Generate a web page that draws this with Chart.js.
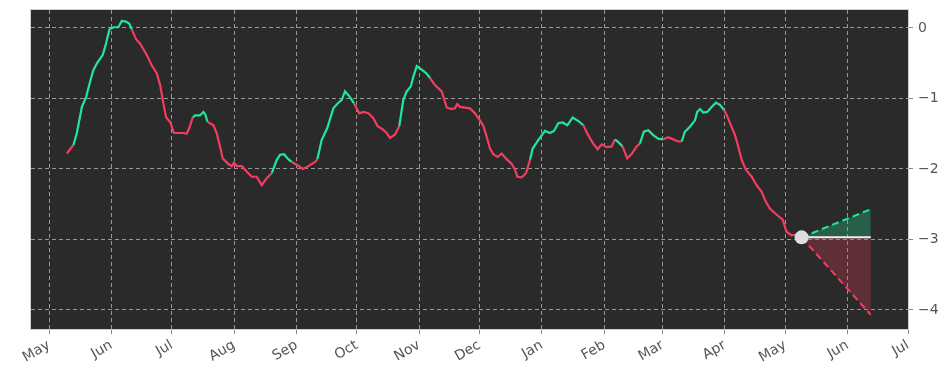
<!DOCTYPE html>
<html>
<head>
<meta charset="utf-8">
<script src="https://cdn.jsdelivr.net/npm/chart.js@4.4.1/dist/chart.umd.min.js"></script>
<style>
  html, body { margin: 0; padding: 0; background: #ffffff; }
  #wrap { width: 952px; height: 381px; position: relative; }
</style>
</head>
<body>
<div id="wrap"><canvas id="c" width="952" height="381"></canvas></div>
<script>
// ---- Data (x = days since 2023-05-01) ----
const days = [8.8,12.1,13.8,16.3,18.4,20.4,22.0,24.0,26.7,28.3,
  30.0,32.0,34.4,36.1,38.3,39.9,41.1,43.2,45.2,47.7,
  49.4,51.0,53.5,55.2,56.8,58.2,60.1,62.1,64.3,66.7,
  68.4,69.7,71.4,72.6,75.0,76.7,77.7,78.7,81.7,83.3,
  85.0,86.3,89.1,90.8,91.9,93.3,95.8,98.3,100.7,103.2,
  105.7,108.2,110.7,113.2,114.8,116.8,118.9,120.6,123.1,126.1,
  128.9,132.2,133.4,135.5,138.3,141.3,143.8,145.5,147.1,149.3,
  151.6,154.2,156.2,158.7,161.2,163.2,165.9,167.8,169.5,172.0,
  174.1,176.1,177.8,179.8,181.1,182.8,185.2,187.4,189.4,191.8,
  195.2,197.7,200.1,201.8,202.9,204.3,206.8,209.2,211.7,214.2,
  215.9,217.5,219.2,220.8,223.0,225.0,227.1,230.0,231.6,232.8,
  234.9,237.1,239.1,240.4,243.2,246.5,249.0,251.0,253.1,255.3,
  257.6,260.3,263.1,265.6,268.0,270.5,272.7,274.7,277.2,279.7,
  281.3,283.4,285.1,287.4,289.6,292.1,293.7,295.7,297.9,300.3,
  302.8,305.3,307.8,310.3,312.8,314.5,316.1,318.6,321.1,322.2,
  323.6,325.2,327.2,329.4,331.5,333.5,335.5,336.8,338.5,341.0,
  342.6,344.3,346.4,349.3,351.7,354.2,355.9,358.3,361.7,364.7,
  366.6,369.1,371.6,374.1];
const values = [-1.78,-1.66,-1.49,-1.12,-0.98,-0.76,-0.60,-0.49,-0.38,-0.22,
  -0.02,0.01,0.01,0.10,0.09,0.06,-0.02,-0.16,-0.22,-0.34,
  -0.43,-0.53,-0.64,-0.81,-1.07,-1.27,-1.33,-1.49,-1.49,-1.49,
  -1.50,-1.42,-1.27,-1.24,-1.24,-1.19,-1.23,-1.33,-1.38,-1.49,
  -1.68,-1.85,-1.93,-1.96,-1.91,-1.96,-1.96,-2.04,-2.11,-2.11,
  -2.23,-2.13,-2.06,-1.87,-1.80,-1.79,-1.86,-1.90,-1.94,-2.00,
  -1.96,-1.90,-1.86,-1.59,-1.42,-1.14,-1.06,-1.02,-0.90,-0.97,
  -1.07,-1.21,-1.19,-1.21,-1.28,-1.39,-1.44,-1.49,-1.56,-1.51,
  -1.39,-1.02,-0.90,-0.83,-0.69,-0.54,-0.59,-0.64,-0.71,-0.81,
  -0.90,-1.13,-1.15,-1.14,-1.08,-1.12,-1.13,-1.14,-1.21,-1.31,
  -1.39,-1.54,-1.71,-1.79,-1.83,-1.78,-1.85,-1.93,-2.01,-2.11,
  -2.12,-2.06,-1.87,-1.71,-1.59,-1.46,-1.49,-1.46,-1.35,-1.34,
  -1.38,-1.27,-1.32,-1.38,-1.52,-1.64,-1.72,-1.65,-1.69,-1.68,
  -1.58,-1.63,-1.68,-1.85,-1.79,-1.68,-1.64,-1.47,-1.45,-1.52,
  -1.57,-1.58,-1.55,-1.58,-1.61,-1.61,-1.47,-1.40,-1.31,-1.19,
  -1.15,-1.20,-1.19,-1.12,-1.06,-1.09,-1.16,-1.23,-1.35,-1.52,
  -1.68,-1.87,-2.01,-2.11,-2.23,-2.32,-2.44,-2.56,-2.65,-2.72,
  -2.89,-2.94,-2.93,-2.97];
// periods (day ranges) classified as up-trend
const upPeriods = [[12.1,41.1],[71.4,78.7],[110.7,120.6],[133.4,151.6],[174.1,189.4],
  [239.1,265.6],[281.3,285.1],[293.7,305.3],[314.5,335.5]];
// forecast cone
const forecastDays  = [374.1, 408.5];
const forecastUpper = [-2.97, -2.57];
const forecastMid   = [-2.97, -2.97];
const forecastLower = [-2.97, -4.07];
// axis ticks
const monthTickDays   = [0,31,61,92,123,153,184,214,245,276,305,336,366,397,427];
const monthTickLabels = ['May','Jun','Jul','Aug','Sep','Oct','Nov','Dec','Jan','Feb','Mar','Apr','May','Jun','Jul'];
const yTickValues = [0,-1,-2,-3,-4];

// ---- Styling ----
const GREEN = '#1fe89a', RED = '#f23d5e';
const toXY = (xs, ys) => xs.map((x, i) => ({x, y: ys[i]}));
const isUp = (a, b) => upPeriods.some(p => a >= p[0] - 0.01 && b <= p[1] + 0.01);

const bgPlugin = {
  id: 'plotbg',
  beforeDraw(chart) {
    const {ctx, chartArea: a} = chart;
    ctx.save();
    ctx.fillStyle = '#2a2a2a';
    ctx.fillRect(a.left, a.top, a.right - a.left, a.bottom - a.top);
    ctx.restore();
  },
  afterDraw(chart) {
    const {ctx, chartArea: a} = chart;
    ctx.save();
    ctx.strokeStyle = '#d0d0d0';
    ctx.lineWidth = 1;
    ctx.strokeRect(a.left - 0.5, a.top - 0.5, a.right - a.left + 1, a.bottom - a.top + 1);
    ctx.restore();
  }
};

const font = {family: 'DejaVu Sans', size: 14};

new Chart(document.getElementById('c'), {
  type: 'line',
  data: {
    datasets: [
      {
        data: toXY(days, values),
        borderWidth: 2.2,
        pointRadius: 0,
        tension: 0,
        borderColor: RED,
        segment: { borderColor: c => isUp(c.p0.parsed.x, c.p1.parsed.x) ? GREEN : RED },
        order: 1
      },
      {
        data: toXY(forecastDays, forecastMid),
        borderColor: '#eeeeee', borderWidth: 2, pointRadius: 0, order: 2
      },
      {
        data: toXY(forecastDays, forecastUpper),
        borderColor: GREEN, borderWidth: 2, borderDash: [7, 4], pointRadius: 0,
        fill: {target: 1}, backgroundColor: 'rgba(31,232,154,0.28)', order: 3
      },
      {
        data: toXY(forecastDays, forecastLower),
        borderColor: RED, borderWidth: 2, borderDash: [7, 4], pointRadius: 0,
        fill: {target: 1}, backgroundColor: 'rgba(242,61,94,0.26)', order: 4
      },
      {
        data: [{x: forecastDays[0], y: forecastMid[0]}],
        pointRadius: 7, pointBackgroundColor: '#dddddd', pointBorderWidth: 0,
        showLine: false, order: 0
      }
    ]
  },
  options: {
    responsive: false,
    animation: false,
    events: [],
    layout: { padding: {left: 31, top: 10, right: 0, bottom: 0} },
    plugins: { legend: {display: false}, tooltip: {enabled: false} },
    scales: {
      x: {
        type: 'linear', min: -9, max: 427,
        afterBuildTicks: s => { s.ticks = monthTickDays.map(v => ({value: v})); },
        afterFit: s => { s.height = 52; s.paddingLeft = 0; s.paddingRight = 0; },
        ticks: {
          autoSkip: false, minRotation: 30, maxRotation: 30, padding: 3,
          color: '#555555', font,
          callback: (v, i) => monthTickLabels[i]
        },
        grid: {
          color: 'rgba(190,190,190,0.75)', lineWidth: 1,
          tickLength: 5, tickColor: '#888888', tickWidth: 1, tickBorderDash: []
        },
        border: { display: false, dash: [4, 3] }
      },
      y: {
        type: 'linear', position: 'right', min: -4.27, max: 0.255,
        afterBuildTicks: s => { s.ticks = yTickValues.map(v => ({value: v})); },
        afterFit: s => { s.width = 44; s.paddingTop = 0; s.paddingBottom = 0; },
        ticks: {
          padding: 5, color: '#555555', font,
          callback: v => v === 0 ? '0' : '\u2212' + Math.abs(v)
        },
        grid: {
          color: 'rgba(190,190,190,0.75)', lineWidth: 1,
          tickLength: 5, tickColor: '#888888', tickWidth: 1, tickBorderDash: []
        },
        border: { display: false, dash: [4, 3] }
      }
    }
  },
  plugins: [bgPlugin]
});
</script>
</body>
</html>
